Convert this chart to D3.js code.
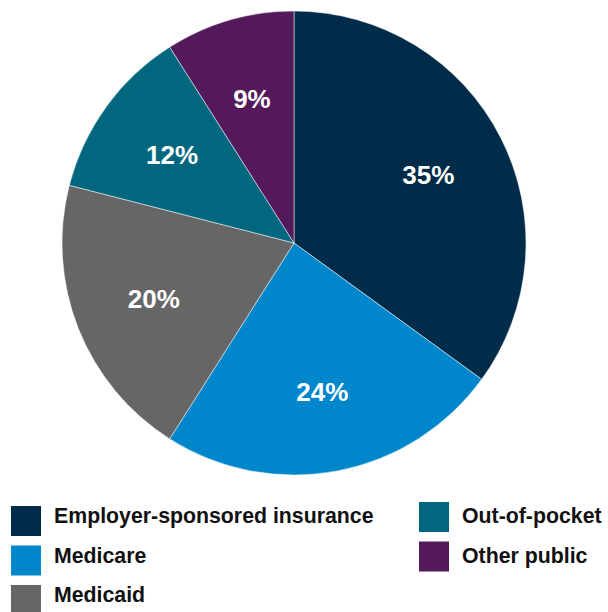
<!DOCTYPE html>
<html>
<head>
<meta charset="utf-8">
<script src="https://cdn.jsdelivr.net/npm/d3@7"></script>
<style>
  html, body { margin: 0; padding: 0; background: #fff; }
  svg { display: block; }
</style>
</head>
<body>
<div id="chart"></div>
<script>
// data
const categories = ["Employer-sponsored insurance", "Medicare", "Medicaid", "Out-of-pocket", "Other public"];
const shares = [35, 24, 20, 12, 9];
const colors = ["#002b49", "#0086cb", "#666666", "#00677f", "#53195b"];

const width = 608, height = 612;
const cx = 294, cy = 243, radius = 232;

const svg = d3.select("#chart").append("svg")
    .attr("width", width)
    .attr("height", height);

const data = categories.map((c, i) => ({ name: c, value: shares[i], color: colors[i] }));

const pie = d3.pie().sort(null).value(d => d.value);
const arc = d3.arc().innerRadius(0).outerRadius(radius);
const labelArc = d3.arc().innerRadius(radius * 0.65).outerRadius(radius * 0.65);

const g = svg.append("g").attr("transform", `translate(${cx},${cy})`);
const arcs = pie(data);

g.selectAll("path")
    .data(arcs).enter().append("path")
    .attr("d", arc)
    .attr("fill", d => d.data.color)
    .attr("stroke", "#fff")
    .attr("stroke-width", 0.5);

g.selectAll("text")
    .data(arcs).enter().append("text")
    .attr("transform", d => `translate(${labelArc.centroid(d)})`)
    .attr("text-anchor", "middle")
    .attr("dy", "0.36em")
    .attr("fill", "#fff")
    .style("font-family", "'Liberation Sans', Arial, sans-serif")
    .style("font-weight", "bold")
    .style("font-size", "26px")
    .text(d => d.data.value + "%");

// legend : 2 colonnes
const legend = svg.append("g");
const rowStep = 39.5, baseY = 523;
const item = legend.selectAll(".item")
    .data(data).enter().append("g")
    .attr("class", "item")
    .attr("transform", (d, i) => {
        const col = i < 3 ? 0 : 1;
        const row = i < 3 ? i : i - 3;
        return `translate(${col === 0 ? 11 : 419},${baseY + row * rowStep})`;
    });

item.append("rect")
    .attr("x", 0)
    .attr("y", (d, i) => i < 3 ? -17 : -21)
    .attr("width", 30)
    .attr("height", 30)
    .attr("fill", d => d.color);

item.append("text")
    .attr("x", 43)
    .attr("y", 0)
    .attr("fill", "#111")
    .style("font-family", "'Liberation Sans', Arial, sans-serif")
    .style("font-weight", "bold")
    .style("font-size", "21.3px")
    .text(d => d.name);
</script>
</body>
</html>
